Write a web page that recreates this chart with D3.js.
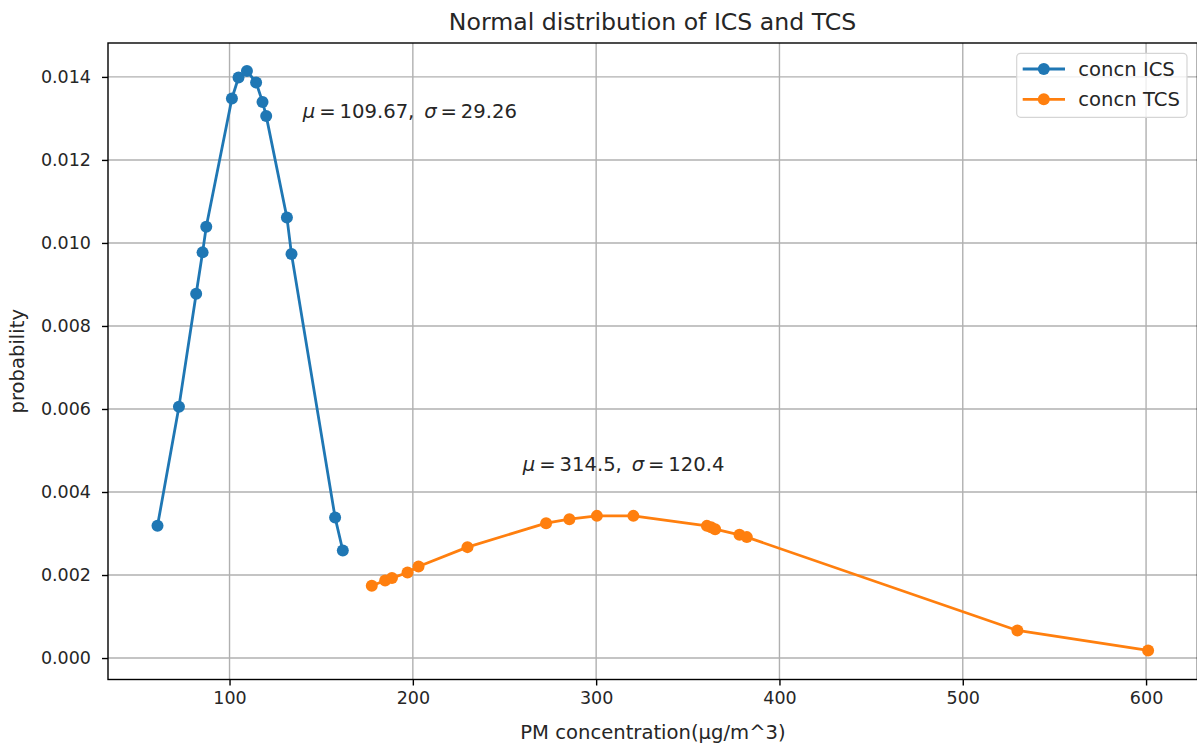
<!DOCTYPE html>
<html>
<head>
<meta charset="utf-8">
<script src="https://cdn.jsdelivr.net/npm/d3@7"></script>
<style>
  html, body { margin: 0; padding: 0; background: #fff; }
  svg { display: block; font-family: "DejaVu Sans", sans-serif; }
</style>
</head>
<body>
<svg id="chart" width="1197" height="744"></svg>
<script>
// ---- data ----
const icsX = [60.7, 72.4, 81.8, 85.3, 87.3, 101.3, 104.9, 109.5, 114.5, 118.0, 120.0, 131.3, 133.8, 157.6, 161.8];
const icsY = [0.003185, 0.006056, 0.008777, 0.009773, 0.010389, 0.01348, 0.013986, 0.014144, 0.013865, 0.013398, 0.013061, 0.010615, 0.009732, 0.003384, 0.00259];
const tcsX = [177.6, 184.9, 188.6, 197.1, 203.1, 229.8, 272.7, 285.4, 300.4, 320.3, 360.4, 362.7, 364.9, 378.2, 382.2, 529.8, 601.1];
const tcsY = [0.00174, 0.001868, 0.001926, 0.00206, 0.002205, 0.002672, 0.00325, 0.003346, 0.003425, 0.003425, 0.003184, 0.003149, 0.003105, 0.002968, 0.002913, 0.000664, 0.000183];
const xTicks = [100, 200, 300, 400, 500, 600];
const yTicks = [0.000, 0.002, 0.004, 0.006, 0.008, 0.010, 0.012, 0.014];
const seriesNames = ["concn ICS", "concn TCS"];
const seriesColors = ["#1f77b4", "#ff7f0e"];
const annotations = [
  {x: 140, y: 0.013, mu: "109.67", sigma: "29.26"},
  {x: 260, y: 0.0045, mu: "314.5", sigma: "120.4"}
];
const titleText = "Normal distribution of ICS and TCS";
const xLabel = "PM concentration(μg/m^3)";
const yLabel = "probability";

// ---- layout ----
const L = 108, R = 1197.4, T = 43, B = 679.5;
const svg = d3.select("#chart");
const x = d3.scaleLinear().domain([33.7, 628]).range([L, R]);
const y = d3.scaleLinear().domain([-0.000517, 0.014817]).range([B, T]);

const tickFont = 17.5;
const labelFont = 19.6;

// grid
const grid = svg.append("g");
grid.selectAll(".gx").data(xTicks).enter().append("line")
  .attr("x1", d => x(d)).attr("x2", d => x(d)).attr("y1", T).attr("y2", B)
  .attr("stroke", "#b0b0b0").attr("stroke-width", 1.4);
grid.selectAll(".gy").data(yTicks).enter().append("line")
  .attr("y1", d => y(d)).attr("y2", d => y(d)).attr("x1", L).attr("x2", R)
  .attr("stroke", "#b0b0b0").attr("stroke-width", 1.4);

// axes
const xAxis = d3.axisBottom(x).tickValues(xTicks).tickSize(6).tickPadding(6).tickFormat(d3.format("d"));
const yAxis = d3.axisLeft(y).tickValues(yTicks).tickSize(6).tickPadding(11).tickFormat(d3.format(".3f"));
const gx = svg.append("g").attr("transform", `translate(0,${B})`).call(xAxis);
const gy = svg.append("g").attr("transform", `translate(${L},0)`).call(yAxis);
[gx, gy].forEach(g => {
  g.select(".domain").remove();
  g.selectAll(".tick line").attr("stroke", "#000").attr("stroke-width", 1.4);
  g.selectAll(".tick text").attr("fill", "#262626").style("font-size", tickFont + "px")
    .style("font-family", "DejaVu Sans");
});

// series
const line = d3.line().x(d => x(d[0])).y(d => y(d[1]));
const series = [
  d3.zip(icsX, icsY),
  d3.zip(tcsX, tcsY)
];
series.forEach((pts, i) => {
  const g = svg.append("g");
  g.append("path").datum(pts).attr("d", line).attr("fill", "none")
    .attr("stroke", seriesColors[i]).attr("stroke-width", 2.8).attr("stroke-linejoin", "round");
  g.selectAll("circle").data(pts).enter().append("circle")
    .attr("cx", d => x(d[0])).attr("cy", d => y(d[1])).attr("r", 6)
    .attr("fill", seriesColors[i]);
});

// spines
svg.append("rect").attr("x", L).attr("y", T).attr("width", R - L).attr("height", B - T)
  .attr("fill", "none").attr("stroke", "#000").attr("stroke-width", 1.4);

// annotations
annotations.forEach(a => {
  const t = svg.append("text").attr("x", x(a.x)).attr("y", y(a.y))
    .attr("fill", "#262626").style("font-size", labelFont + "px");
  t.append("tspan").style("font-style", "italic").text("μ");
  t.append("tspan").text("\u2009=\u2009" + a.mu + ",\u2002");
  t.append("tspan").style("font-style", "italic").text("σ");
  t.append("tspan").text("\u2009=\u2009" + a.sigma);
});

// legend
const lg = svg.append("g");
lg.append("rect").attr("x", 1016.7).attr("y", 53.3).attr("width", 170.3).attr("height", 64)
  .attr("rx", 4).attr("fill", "#fff").attr("fill-opacity", 0.8)
  .attr("stroke", "#d5d5d5").attr("stroke-width", 1.2);
seriesNames.forEach((name, i) => {
  const yy = 69 + i * 30.3;
  lg.append("line").attr("x1", 1022.7).attr("x2", 1065).attr("y1", yy).attr("y2", yy)
    .attr("stroke", seriesColors[i]).attr("stroke-width", 2.8);
  lg.append("circle").attr("cx", 1043.8).attr("cy", yy).attr("r", 6).attr("fill", seriesColors[i]);
  lg.append("text").attr("x", 1078.3).attr("y", yy).attr("dy", "0.35em")
    .attr("fill", "#262626").style("font-size", labelFont + "px").text(name);
});

// title and labels
svg.append("text").attr("x", 652.5).attr("y", 30).attr("text-anchor", "middle")
  .attr("fill", "#262626").style("font-size", "23.6px").text(titleText);
svg.append("text").attr("x", 653).attr("y", 739).attr("text-anchor", "middle")
  .attr("fill", "#262626").style("font-size", labelFont + "px").text(xLabel);
svg.append("text").attr("transform", `translate(24,${(T + B) / 2}) rotate(-90)`)
  .attr("text-anchor", "middle").attr("fill", "#262626").style("font-size", labelFont + "px").text(yLabel);
</script>
</body>
</html>
